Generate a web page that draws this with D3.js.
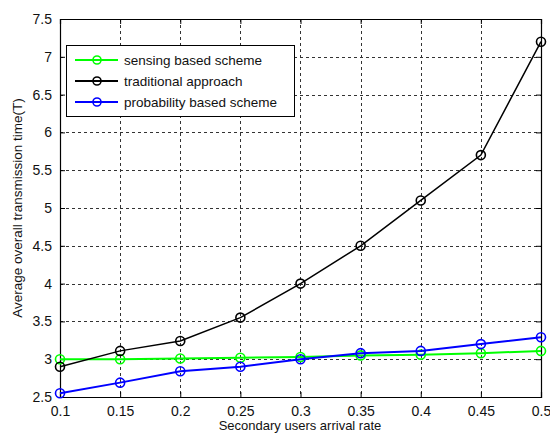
<!DOCTYPE html>
<html>
<head>
<meta charset="utf-8">
<script src="https://cdn.jsdelivr.net/npm/d3@7"></script>
<style>
	body { margin: 0; background: #fff; overflow: hidden; }
	text { font-family: "Liberation Sans", Arial, sans-serif; fill: #111; }
</style>
</head>
<body>
<svg id="chart" width="550" height="434"></svg>
<script>
const rates = [0.1, 0.15, 0.2, 0.25, 0.3, 0.35, 0.4, 0.45, 0.5]
const sensing = [3.0, 3.0, 3.01, 3.02, 3.03, 3.05, 3.06, 3.08, 3.11]
const traditional = [2.9, 3.11, 3.24, 3.55, 4.0, 4.5, 5.1, 5.7, 7.2]
const probability = [2.55, 2.69, 2.84, 2.9, 3.0, 3.08, 3.11, 3.2, 3.29]
const xTicks = [0.1, 0.15, 0.2, 0.25, 0.3, 0.35, 0.4, 0.45, 0.5]
const yTicks = [2.5, 3, 3.5, 4, 4.5, 5, 5.5, 6, 6.5, 7, 7.5]
const seriesNames = ["sensing based scheme", "traditional approach", "probability based scheme"]
const seriesColors = ["#00ff00", "#000000", "#0000ff"]

const svg = d3.select("#chart")
const plotLeft = 60, plotRight = 541, plotTop = 19, plotBottom = 397

const x = d3.scaleLinear().domain([0.1, 0.5]).range([plotLeft, plotRight])
const y = d3.scaleLinear().domain([2.5, 7.5]).range([plotBottom, plotTop])

// grid
const grid = svg.append("g")
	.attr("stroke", "#333")
	.attr("stroke-width", 1)
	.attr("stroke-dasharray", "3,3")
grid.selectAll(".gx")
	.data(xTicks.slice(1, -1))
	.enter()
	.append("line")
	.attr("x1", d => Math.round(x(d)) + 0.5)
	.attr("x2", d => Math.round(x(d)) + 0.5)
	.attr("y1", plotTop)
	.attr("y2", plotBottom)
grid.selectAll(".gy")
	.data(yTicks.slice(1, -1))
	.enter()
	.append("line")
	.attr("y1", d => Math.round(y(d)) + 0.5)
	.attr("y2", d => Math.round(y(d)) + 0.5)
	.attr("x1", plotLeft)
	.attr("x2", plotRight)

// axes
svg.append("g")
	.attr("transform", `translate(0,${plotBottom})`)
	.call(d3.axisBottom(x).tickValues(xTicks).tickSize(-5).tickPadding(9).tickFormat(d3.format("")))
svg.append("g")
	.attr("transform", `translate(0,${plotTop})`)
	.call(d3.axisTop(x).tickValues(xTicks).tickSize(-5).tickFormat(""))
svg.append("g")
	.attr("transform", `translate(${plotLeft},0)`)
	.call(d3.axisLeft(y).tickValues(yTicks).tickSize(-5).tickPadding(8).tickFormat(d3.format("")))
svg.append("g")
	.attr("transform", `translate(${plotRight},0)`)
	.call(d3.axisRight(y).tickValues(yTicks).tickSize(-5).tickFormat(""))
svg.selectAll(".domain").attr("stroke", "#000").attr("stroke-width", 1.2)
svg.selectAll(".tick line").attr("stroke", "#000")
svg.selectAll(".tick text").style("font-size", "14px").attr("fill", "#1a1a33")
	.style("font-family", "'Liberation Sans', Arial, sans-serif")

// series
const series = [sensing, traditional, probability]
const line = d3.line().x((d, i) => x(rates[i])).y(d => y(d))
series.forEach((values, s) => {
	svg.append("path")
		.datum(values)
		.attr("d", line)
		.attr("fill", "none")
		.attr("stroke", seriesColors[s])
		.attr("stroke-width", s === 1 ? 1.5 : 2)
	svg.selectAll(".m" + s)
		.data(values)
		.enter()
		.append("circle")
		.attr("cx", (d, i) => x(rates[i]))
		.attr("cy", d => y(d))
		.attr("r", 4.5)
		.attr("fill", "none")
		.attr("stroke", seriesColors[s])
		.attr("stroke-width", 1.6)
})

// legend
const legend = svg.append("g")
legend.append("rect")
	.attr("x", 66.5).attr("y", 45.5)
	.attr("width", 228).attr("height", 71)
	.attr("fill", "#fff").attr("stroke", "#000").attr("stroke-width", 1)
seriesNames.forEach((name, i) => {
	const ly = 60 + i * 21
	legend.append("line")
		.attr("x1", 75).attr("x2", 118).attr("y1", ly).attr("y2", ly)
		.attr("stroke", seriesColors[i]).attr("stroke-width", 2)
	legend.append("circle")
		.attr("cx", 97).attr("cy", ly).attr("r", 4)
		.attr("fill", "none").attr("stroke", seriesColors[i]).attr("stroke-width", 1.6)
	legend.append("text")
		.attr("x", 124).attr("y", ly + 5)
		.style("font-size", "13.5px")
		.text(name)
})

// labels
svg.append("text")
	.attr("x", 300).attr("y", 430)
	.attr("text-anchor", "middle")
	.style("font-size", "13px")
	.text("Secondary users arrival rate")
svg.append("text")
	.attr("transform", "translate(22,208) rotate(-90)")
	.attr("text-anchor", "middle")
	.style("font-size", "13.5px")
	.text("Average overall transmission time(T)")
</script>
</body>
</html>
